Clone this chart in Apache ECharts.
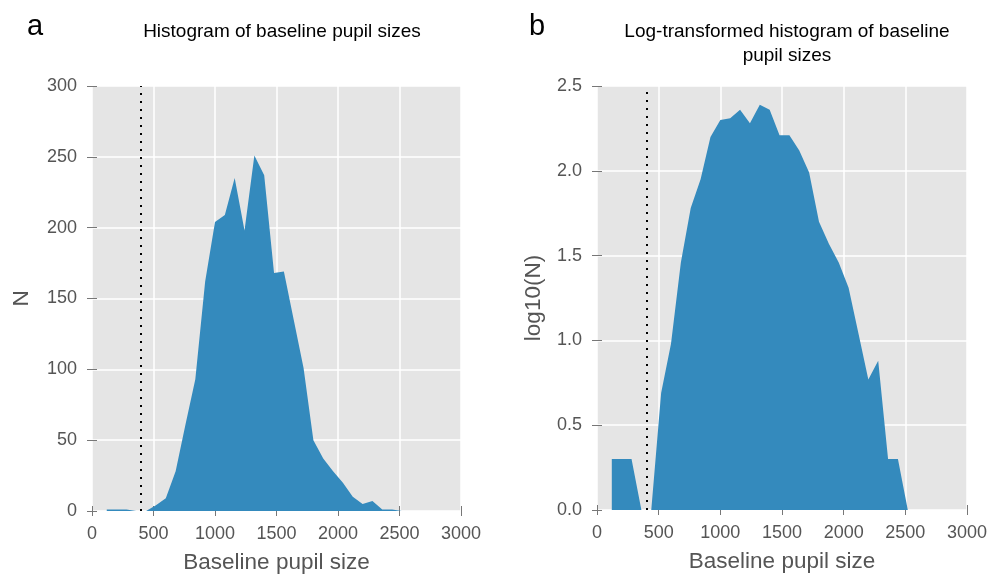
<!DOCTYPE html>
<html>
<head>
<meta charset="utf-8">
<script src="https://cdn.jsdelivr.net/npm/echarts@6/dist/echarts.min.js"></script>
<style>
  html, body { margin: 0; padding: 0; background: #fff; }
  #main { width: 991px; height: 580px; }
</style>
</head>
<body>
<div id="main"></div>
<script>
// bin centres (baseline pupil size)
var binCenters = [120, 200, 280, 360, 440, 520, 600, 680, 760, 840, 920, 1000, 1080, 1160, 1240,
    1320, 1400, 1480, 1560, 1640, 1720, 1800, 1880, 1960, 2040, 2120, 2200, 2280, 2360, 2440, 2520];

// panel a: counts
var counts = [1, 1, 1, 0, 0, 4, 9, 28, 61, 93, 162, 204, 209, 235, 198,
    251, 237, 168, 169, 135, 101, 50, 37, 28, 20, 10, 5, 7, 1, 1, 0];

// panel b: log-transformed counts
var logCounts = [0.30, 0.30, 0.30, 0, 0, 0.69, 0.98, 1.46, 1.78, 1.95, 2.20, 2.30, 2.31, 2.36, 2.28,
    2.39, 2.36, 2.21, 2.21, 2.12, 1.99, 1.70, 1.57, 1.46, 1.31, 1.04, 0.77, 0.88, 0.30, 0.30, 0];

var xTicks = [0, 500, 1000, 1500, 2000, 2500, 3000];
var cutoff = 400;

var FONT = '"Liberation Sans", Arial, sans-serif';
var GREY = '#555';
var FILL = '#348ABD';

function pairs(xs, ys) {
    var out = [];
    for (var i = 0; i < xs.length; i++) {
        out.push([xs[i], ys[i]]);
    }
    return out;
}

var tickStyle = { show: true, inside: false, length: 5, lineStyle: { color: '#777' } };

// main axis with labels
function xMain(gridIndex) {
    return {
        type: 'value', gridIndex: gridIndex, position: 'bottom',
        min: xTicks[0], max: xTicks[xTicks.length - 1], interval: 500,
        name: 'Baseline pupil size', nameLocation: 'middle', nameGap: 40,
        nameTextStyle: { fontFamily: FONT, fontSize: 22.5, color: GREY },
        axisLine: { show: false },
        axisTick: tickStyle,
        axisLabel: { fontFamily: FONT, fontSize: 18, color: GREY, margin: 14,
            formatter: function (v) { return String(v); } },
        splitLine: { show: true, lineStyle: { color: '#fff', width: 1.5 } }
    };
}

// mirror axis: only ticks (top / right)
function xMirror(gridIndex) {
    return {
        type: 'value', gridIndex: gridIndex, position: 'top',
        min: xTicks[0], max: xTicks[xTicks.length - 1], interval: 500,
        axisLine: { show: false },
        axisTick: tickStyle,
        axisLabel: { show: false },
        splitLine: { show: false }
    };
}

function yMain(gridIndex, max, interval, name, gap, fmt) {
    return {
        type: 'value', gridIndex: gridIndex, position: 'left',
        min: 0, max: max, interval: interval,
        name: name, nameLocation: 'middle', nameGap: gap, nameRotate: 90,
        nameTextStyle: { fontFamily: FONT, fontSize: 22.5, color: GREY },
        axisLine: { show: false },
        axisTick: tickStyle,
        axisLabel: { fontFamily: FONT, fontSize: 18, color: GREY, margin: 15, formatter: fmt },
        splitLine: { show: true, lineStyle: { color: '#fff', width: 1.5 } }
    };
}

function yMirror(gridIndex, max, interval) {
    return {
        type: 'value', gridIndex: gridIndex, position: 'right',
        min: 0, max: max, interval: interval,
        axisLine: { show: false },
        axisTick: tickStyle,
        axisLabel: { show: false },
        splitLine: { show: false }
    };
}

function areaSeries(xIdx, yIdx, data) {
    return {
        type: 'line', xAxisIndex: xIdx, yAxisIndex: yIdx,
        data: data, showSymbol: false, silent: true,
        lineStyle: { width: 0 },
        areaStyle: { color: FILL, opacity: 1 },
        markLine: {
            silent: true, symbol: 'none', label: { show: false },
            lineStyle: { color: '#000', type: [2, 6], width: 2 },
            data: [{ xAxis: cutoff }]
        },
        z: 3
    };
}

var myChart = echarts.init(document.getElementById('main'), null, { renderer: 'canvas' });

var option = {
    animation: false,
    backgroundColor: '#fff',
    title: [
        { text: 'a', left: 22, top: 7, textStyle: { fontFamily: FONT, fontSize: 29, fontWeight: 'normal', color: '#000' } },
        { text: 'b', left: 524, top: 7, textStyle: { fontFamily: FONT, fontSize: 29, fontWeight: 'normal', color: '#000' } },
        { text: 'Histogram of baseline pupil sizes', left: 277, top: 15, textAlign: 'center',
          textStyle: { fontFamily: FONT, fontSize: 19, fontWeight: 'normal', color: '#000', lineHeight: 24 } },
        { text: 'Log-transformed histogram of baseline\npupil sizes', left: 782, top: 15, textAlign: 'center',
          textStyle: { fontFamily: FONT, fontSize: 19, fontWeight: 'normal', color: '#000', lineHeight: 24, align: 'center' } }
    ],
    grid: [
        { left: 92, top: 86, width: 369, height: 425, show: true, backgroundColor: '#E5E5E5', borderWidth: 0 },
        { left: 597, top: 86, width: 370, height: 424, show: true, backgroundColor: '#E5E5E5', borderWidth: 0 }
    ],
    xAxis: [xMain(0), xMirror(0), xMain(1), xMirror(1)],
    yAxis: [
        yMain(0, 300, 50, 'N', 59),
        yMirror(0, 300, 50),
        yMain(1, 2.5, 0.5, 'log10(N)', 52, function (v) { return v.toFixed(1); }),
        yMirror(1, 2.5, 0.5)
    ],
    series: [
        areaSeries(0, 0, pairs(binCenters, counts)),
        areaSeries(2, 2, pairs(binCenters, logCounts))
    ]
};

myChart.setOption(option);
</script>
</body>
</html>
